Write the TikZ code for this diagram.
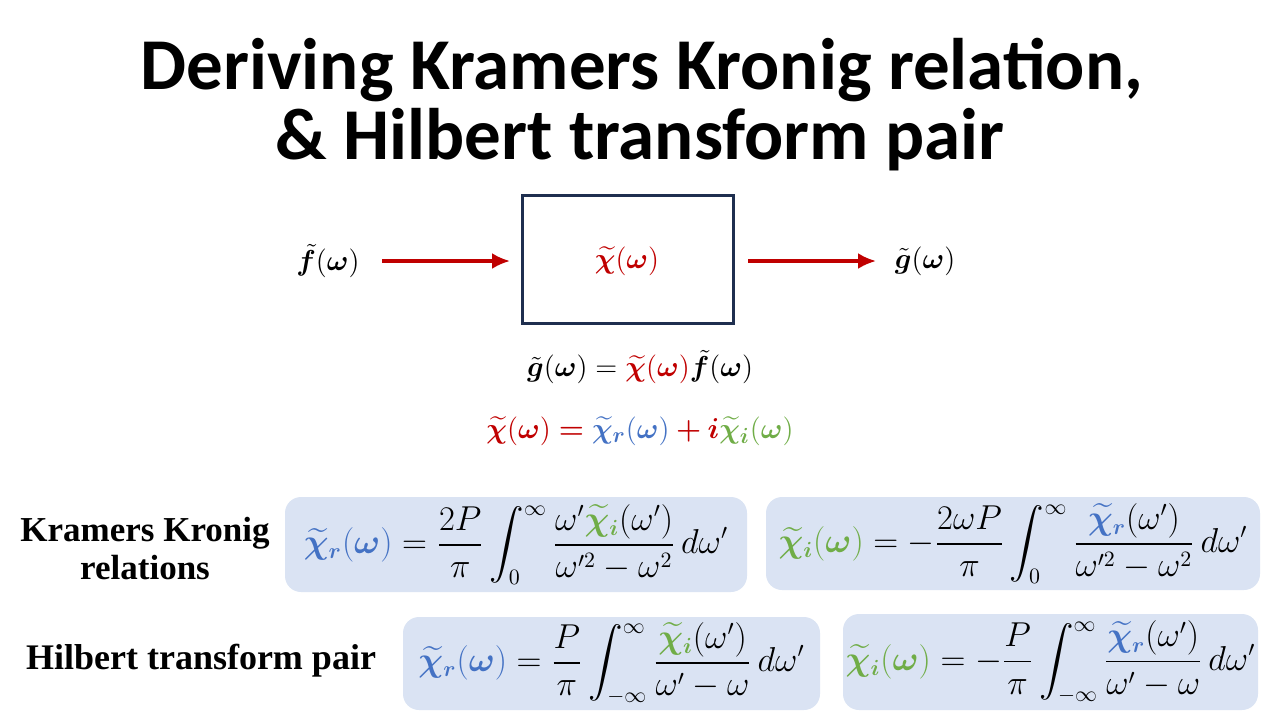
\documentclass[tikz,border=0pt]{standalone}
\usepackage{amsmath,bm}
\usepackage{fontspec}
\newfontfamily\titlefont{Carlito}
\newfontfamily\labfont{Liberation Serif}
\definecolor{cred}{HTML}{C00000}
\definecolor{cblue}{HTML}{4472C4}
\definecolor{cgreen}{HTML}{70AD47}
\definecolor{cnavy}{HTML}{1F2F4F}
\definecolor{cbox}{HTML}{DAE3F3}
\newcommand{\myChR}{\textcolor{cblue}{\widetilde{\bm\chi}_{\bm r}}}
\newcommand{\myChI}{\textcolor{cgreen}{\widetilde{\bm\chi}_{\bm i}}}
\newcommand{\myCh}{\textcolor{cred}{\widetilde{\bm\chi}(\bm\omega)}}
\newcommand{\myF}{\tilde{\bm f}(\bm\omega)}
\newcommand{\myG}{\tilde{\bm g}(\bm\omega)}
\usetikzlibrary{arrows.meta}
\tikzset{
  eqbox/.style={fill=cbox,rounded corners=8pt,draw=none},
  arr/.style={draw=cred,line width=1.6pt,-{Latex[length=9pt,width=8pt]}},
  eq/.style={font=\fontsize{15.5}{18}\selectfont},
  beq/.style={font=\fontsize{16}{19}\selectfont},
  lab/.style={font=\labfont\bfseries\fontsize{17.5}{19}\selectfont,align=center}
}
\begin{document}
\begin{tikzpicture}[x=0.5pt,y=-0.5pt]
\useasboundingbox (0,0) rectangle (1280,720);
\node[font=\titlefont\bfseries\fontsize{36.5}{42}\selectfont] (t1) at (642,70) {Deriving Kramers Kronig relation,};
\node[font=\titlefont\bfseries\fontsize{36.5}{42}\selectfont] (t2) at (640,140) {\& Hilbert transform pair};
\node[draw=cnavy,line width=1.5pt,minimum width=105.5pt,minimum height=64pt] (box) at (627.5,259) {};
\node[eq] (chi) at (627,261) {$\myCh$};
\node[eq] (f) at (328,261) {$\myF$};
\node[eq] (g) at (925,261) {$\myG$};
\coordinate (a1) at (382,261); \coordinate (a2) at (510,261);
\coordinate (b1) at (748,261); \coordinate (b2) at (876,261);
\draw[arr] (a1) -- (a2);
\draw[arr] (b1) -- (b2);
\node[eq] (e1) at (640,367) {$\tilde{\bm g}(\bm\omega)=\myCh\tilde{\bm f}(\bm\omega)$};
\node[eq] (e2) at (640,431) {$\myCh\mathrel{\textcolor{cred}{\bm=}}\myChR\textcolor{cblue}{(\bm\omega)}\mathbin{\textcolor{cred}{\bm+}}\textcolor{cred}{\bm i}\myChI\textcolor{cgreen}{(\bm\omega)}$};
\node[eqbox,minimum width=231pt,minimum height=47.5pt] (k1) at (516,544.5) {};
\node[eqbox,minimum width=247pt,minimum height=46.5pt] (k2) at (1013,543.5) {};
\node[eqbox,minimum width=208.5pt,minimum height=46.5pt] (h1) at (611.5,663.5) {};
\node[eqbox,minimum width=207.5pt,minimum height=48pt] (h2) at (1050.5,662) {};
\node[beq] at (k1) {$\myChR\textcolor{cblue}{(\bm\omega)}=\dfrac{2P}{\pi}\displaystyle\int_0^\infty\frac{\omega'\myChI(\omega')}{\omega'^2-\omega^2}\,d\omega'$};
\node[beq] at (k2) {$\myChI\textcolor{cgreen}{(\bm\omega)}=-\dfrac{2\omega P}{\pi}\displaystyle\int_0^\infty\frac{\myChR(\omega')}{\omega'^2-\omega^2}\,d\omega'$};
\node[beq] at (h1) {$\myChR\textcolor{cblue}{(\bm\omega)}=\dfrac{P}{\pi}\displaystyle\int_{-\infty}^\infty\frac{\myChI(\omega')}{\omega'-\omega}\,d\omega'$};
\node[beq] at (h2) {$\myChI\textcolor{cgreen}{(\bm\omega)}=-\dfrac{P}{\pi}\displaystyle\int_{-\infty}^\infty\frac{\myChR(\omega')}{\omega'-\omega}\,d\omega'$};
\node[lab] (l1) at (145,549) {Kramers Kronig\\relations};
\node[lab,font=\labfont\bfseries\fontsize{18}{20}\selectfont] (l2) at (201,661) {Hilbert transform pair};
\end{tikzpicture}
\end{document}
